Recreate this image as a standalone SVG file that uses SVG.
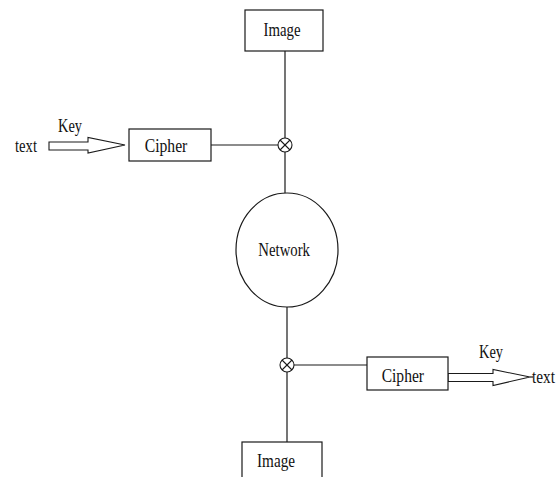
<svg xmlns="http://www.w3.org/2000/svg" width="560" height="477" viewBox="0 0 560 477">
  <style>
    .box { fill: #ffffff; stroke: #1a1a1a; stroke-width: 1.2; }
    .line { fill: none; stroke: #1a1a1a; stroke-width: 1.2; }
    .arrow { fill: #ffffff; stroke: #1a1a1a; stroke-width: 1.1; stroke-linejoin: miter; }
    .lbl { font-family: "Liberation Serif", "Times New Roman", serif; font-size: 19px; fill: #111111; }
  </style>
  <defs>
    <!-- mixing junction: circle with a cross -->
    <g id="junction">
      <circle cx="0" cy="0" r="7" fill="#ffffff" stroke="#1a1a1a" stroke-width="1.1"/>
      <line x1="-5" y1="-5" x2="5" y2="5" stroke="#1a1a1a" stroke-width="1.1"/>
      <line x1="5" y1="-5" x2="-5" y2="5" stroke="#1a1a1a" stroke-width="1.1"/>
    </g>
  </defs>
  <rect width="560" height="477" fill="#ffffff"/>

  <g id="connectors">
    <!-- upper branch -->
    <line class="line" x1="285" y1="51" x2="285" y2="138"/>
    <line class="line" x1="211" y1="145" x2="278" y2="145"/>
    <line class="line" x1="285" y1="152" x2="285" y2="193"/>
    <!-- lower branch -->
    <line class="line" x1="287" y1="307" x2="287" y2="358"/>
    <line class="line" x1="294" y1="365" x2="367" y2="365"/>
    <line class="line" x1="287" y1="372" x2="287" y2="442"/>
    <!-- hollow input arrow -->
    <polygon class="arrow" points="49,142 88,142 88,137.5 125,145 88,153 88,150 49,150"/>
    <!-- hollow output arrow -->
    <polygon class="arrow" points="448,373.5 493,373.5 493,369.5 530,377 493,385.5 493,381.5 448,381.5"/>
    <line class="line" x1="530" y1="377" x2="533" y2="377"/>
  </g>

  <g id="image-top">
    <rect class="box" x="245" y="10" width="78" height="41"/>
    <text class="lbl" x="263.5" y="36" textLength="37" lengthAdjust="spacingAndGlyphs">Image</text>
  </g>

  <g id="cipher-top">
    <rect class="box" x="129" y="129" width="82" height="32"/>
    <text class="lbl" x="144.7" y="151.7" textLength="42.6" lengthAdjust="spacingAndGlyphs">Cipher</text>
  </g>

  <g id="input-labels">
    <text class="lbl" x="15" y="152" textLength="22" lengthAdjust="spacingAndGlyphs">text</text>
    <text class="lbl" x="58" y="132" textLength="24" lengthAdjust="spacingAndGlyphs">Key</text>
  </g>

  <g id="junction-top">
    <use href="#junction" x="285" y="145"/>
  </g>

  <g id="network">
    <ellipse cx="287" cy="250" rx="51" ry="57" fill="#ffffff" stroke="#1a1a1a" stroke-width="1.2"/>
    <text class="lbl" x="258.3" y="256" textLength="51.7" lengthAdjust="spacingAndGlyphs">Network</text>
  </g>

  <g id="junction-bottom">
    <use href="#junction" x="287" y="365"/>
  </g>

  <g id="cipher-bottom">
    <rect class="box" x="367" y="357" width="81" height="33"/>
    <text class="lbl" x="381.7" y="381.7" textLength="42.3" lengthAdjust="spacingAndGlyphs">Cipher</text>
  </g>

  <g id="output-labels">
    <text class="lbl" x="479" y="358" textLength="24" lengthAdjust="spacingAndGlyphs">Key</text>
    <text class="lbl" x="532" y="383" textLength="23" lengthAdjust="spacingAndGlyphs">text</text>
  </g>

  <g id="image-bottom">
    <rect class="box" x="242" y="442" width="80" height="45"/>
    <text class="lbl" x="257" y="467" textLength="38" lengthAdjust="spacingAndGlyphs">Image</text>
  </g>
</svg>
